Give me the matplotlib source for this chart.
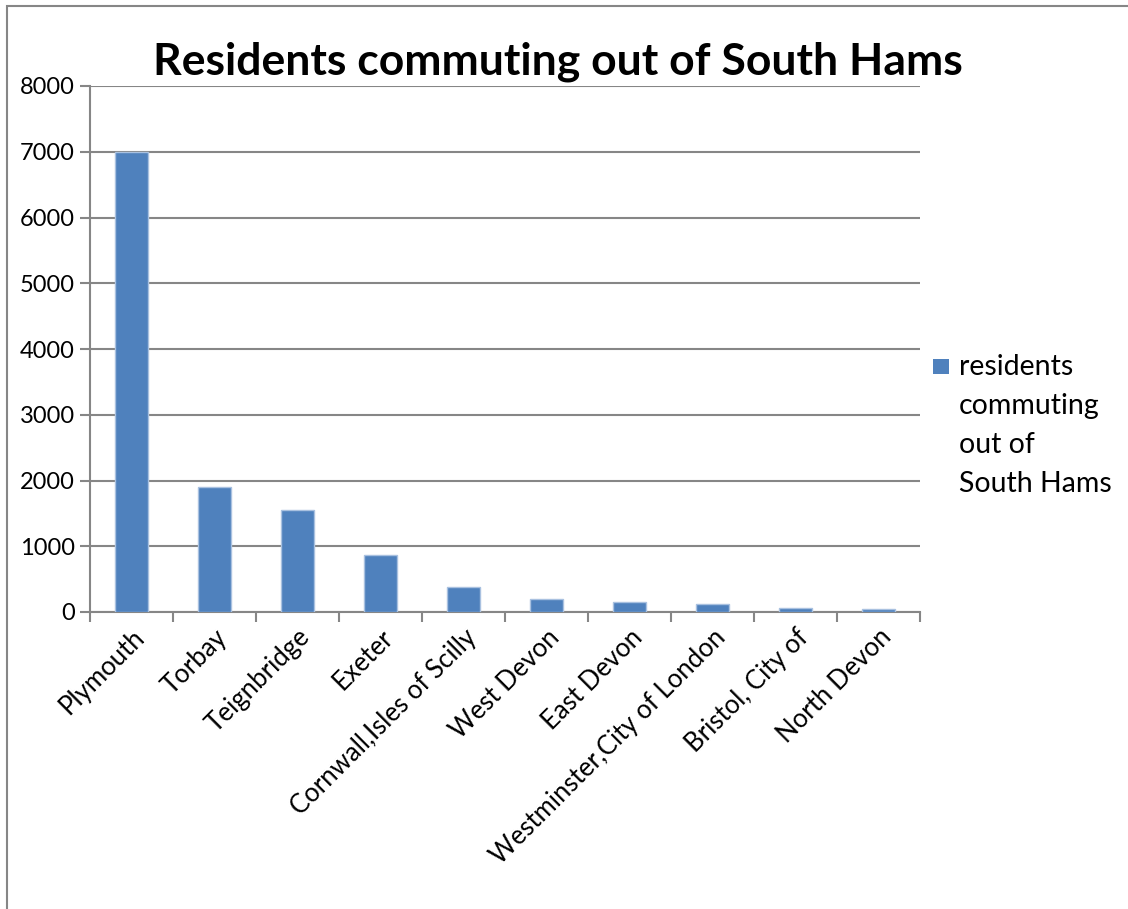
import numpy as np
import matplotlib
matplotlib.use('Agg')
import matplotlib.pyplot as plt
from matplotlib.patches import Rectangle

plt.rcParams['font.family'] = ['Lato', 'DejaVu Sans']

## data
places = ['Plymouth', 'Torbay', 'Teignbridge', 'Exeter', 'Cornwall,Isles of Scilly',
          'West Devon', 'East Devon', 'Westminster,City of London', 'Bristol, City of',
          'North Devon']
residents = [6990, 1900, 1550, 870, 380, 200, 150, 120, 60, 50]
yticks = np.arange(0, 8000 + 1000, 1000)
series_name = 'residents\ncommuting\nout of\nSouth Hams'

grey = '#868686'
blue = '#4F81BD'

fig = plt.figure(figsize=(11.28, 9.09), dpi=100)
ax = fig.add_axes([90/1128, 1 - 612/909, 830/1128, 526/909])

x = np.arange(len(places))
bars = ax.bar(x, residents, width=0.39, color=blue, edgecolor='#a9c1e0',
              linewidth=1, zorder=3)

ax.set_xlim(-0.5, len(places) - 0.5)
ax.set_ylim(0, 8000)
ax.set_yticks(yticks)
ax.set_yticklabels([str(v) for v in yticks], fontsize=17)
ax.grid(axis='y', color=grey, linewidth=1.5, zorder=0)

# category ticks on the boundaries, labels at centres
ax.set_xticks(np.arange(len(places) + 1) - 0.5)
ax.set_xticklabels([])
ax.set_xticks(x, minor=True)
ax.set_xticklabels(places, minor=True, rotation=45, ha='right',
                   rotation_mode='anchor', fontsize=18.5)
ax.tick_params(axis='x', which='minor', length=0, pad=9)
ax.tick_params(axis='x', which='major', length=7, width=1.5, color=grey, direction='out')
ax.tick_params(axis='y', length=7, width=1.5, color=grey, direction='out', pad=4)

for s in ['top', 'right']:
    ax.spines[s].set_visible(False)
for s in ['left', 'bottom']:
    ax.spines[s].set_color(grey)
    ax.spines[s].set_linewidth(1.5)

fig.text(558/1128, 1 - 62/909, 'Residents commuting out of South Hams',
         ha='center', va='center', fontsize=32, fontweight='bold')

# legend drawn by hand so the key lines up with the first text line
fig.add_artist(Rectangle((933/1128, 1 - 374/909), 16/1128, 15/909,
                         transform=fig.transFigure, facecolor=blue, edgecolor='none'))
fig.text(959/1128, 1 - 354/909, series_name, ha='left', va='top',
         fontsize=20.5, linespacing=1.62)

# outer chart border
fig.add_artist(Rectangle((7/1128, -0.1), 2, 1.1 - 6/909, transform=fig.transFigure,
                         fill=False, edgecolor=grey, linewidth=1.5))

fig.savefig('out.png', dpi=100)
